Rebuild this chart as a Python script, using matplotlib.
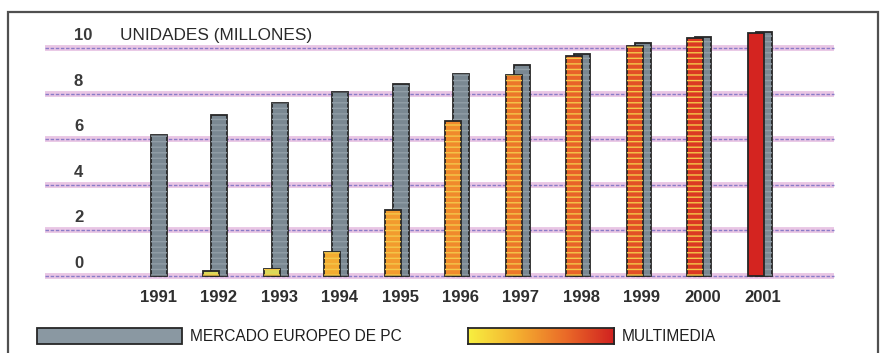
import matplotlib.pyplot as plt
import numpy as np
from matplotlib.colors import LinearSegmentedColormap
from matplotlib.patches import Rectangle

years = ['1991', '1992', '1993', '1994', '1995', '1996',
         '1997', '1998', '1999', '2000', '2001']
pc_market = [6.2, 7.05, 7.6, 8.05, 8.4, 8.85, 9.25, 9.75, 10.2, 10.5, 10.7]
multimedia = [0.0, 0.2, 0.3, 1.05, 2.9, 6.8, 8.8, 9.65, 10.1, 10.45, 10.65]
yticks = [0, 2, 4, 6, 8, 10]

plt.rcParams['font.family'] = ['Liberation Sans', 'DejaVu Sans']

mm_cmap = LinearSegmentedColormap.from_list(
    'mm', ['#ece45a', '#f4b432', '#f08a2c', '#e65a28', '#d42420'])
gray = '#7a8892'
edge = '#262626'

fig = plt.figure(figsize=(8.87, 3.53), dpi=100)
ax = fig.add_axes([0, 0, 1, 1])
ax.set_xlim(-2.612, 12.05)
ax.set_ylim(-3.377, 12.105)
ax.axis('off')

# double gridlines: pink band with a dashed violet line through it
for v in yticks:
    ax.hlines(v, -1.87, 11.17, color='#e9c6e4', lw=4.2, zorder=1)
    ax.hlines(v, -1.87, 11.17, color='#8a7cc8', lw=1.0,
              linestyles=(0, (2.5, 1.2)), zorder=1.5)
    ax.text(-1.39, v + 0.55, str(v), ha='left', va='center',
            fontsize=12, color='#3a3a3a', fontweight='bold')

ax.text(-0.63, 10.55, 'UNIDADES (MILLONES)', ha='left', va='center',
        fontsize=12.4, color='#2a2a2a')

x = np.arange(len(years))
w = 0.265

# PC market bars sit behind, multimedia bars in front shifted left
ax.bar(x + 0.01, pc_market, width=w, color=gray, edgecolor=edge,
       linewidth=1.3, zorder=2)
ax.bar(x + 0.01, pc_market, width=w, color='none', edgecolor='#919ea7',
       linewidth=0, hatch='---', zorder=2.1)

mm_colors = [mm_cmap(i / (len(years) - 1)) for i in range(len(years))]
mm_colors[1] = mm_colors[2] = '#dcd85a'
for i, val in enumerate(multimedia):
    if val <= 0:
        continue
    ax.bar(x[i] - 0.12, val, width=w, color=mm_colors[i], edgecolor=edge,
           linewidth=1.3, zorder=3)
    if i < len(years) - 1:
        ax.bar(x[i] - 0.12, val, width=w, color='none', edgecolor='#f4c84a',
               linewidth=0, hatch='---', zorder=3.1)

for i, yr in enumerate(years):
    ax.text(x[i], -0.96, yr, ha='center', va='center', fontsize=12,
            color='#2f2f2f', fontweight='bold')

# legend
fig.patches.append(Rectangle((0.0417, 0.0255), 0.1635, 0.0453,
                             transform=fig.transFigure, facecolor='#8a98a2',
                             edgecolor=edge, linewidth=1.3))
fig.text(0.214, 0.048, 'MERCADO EUROPEO DE PC', ha='left', va='center',
         fontsize=11.2, color='#1e1e1e')

grad_ax = fig.add_axes([0.5276, 0.0255, 0.1646, 0.0453])
grad_ax.imshow(np.linspace(0, 1, 256)[None, :],
               cmap=LinearSegmentedColormap.from_list(
                   'lg', ['#f8f040', '#f4b030', '#ea6a28', '#d02020']),
               aspect='auto')
grad_ax.set_xticks([])
grad_ax.set_yticks([])
for s in grad_ax.spines.values():
    s.set_linewidth(1.3)
    s.set_color(edge)
fig.text(0.701, 0.048, 'MULTIMEDIA', ha='left', va='center',
         fontsize=11.2, color='#1e1e1e')

# outer frame
fig.patches.append(Rectangle((0.009, -0.05), 0.981, 1.016,
                             transform=fig.transFigure, facecolor='none',
                             edgecolor='#505050', linewidth=1.6))

fig.savefig('out.png', dpi=100)
